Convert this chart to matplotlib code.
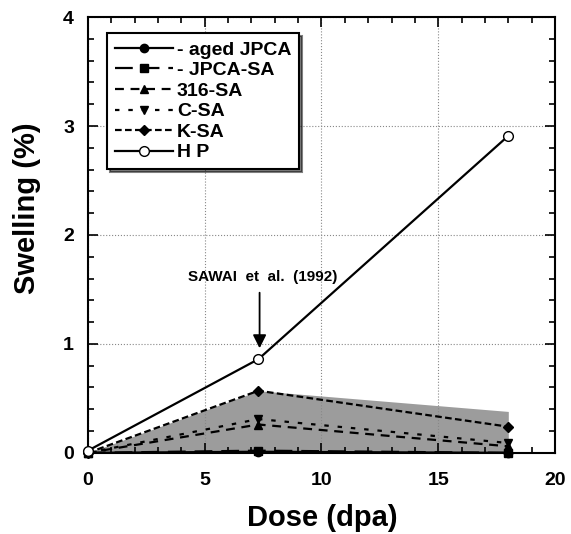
import numpy as np
import matplotlib
matplotlib.use("Agg")
from matplotlib import pyplot as plt
from matplotlib.ticker import MultipleLocator

plt.rcParams['font.family'] = ['Liberation Sans', 'DejaVu Sans']
plt.rcParams['font.weight'] = 'bold'

dose = [0, 7.3, 18]
aged_jpca = [0.0, 0.01, 0.0]
jpca_sa = [0.0, 0.02, 0.0]
sa_316 = [0.0, 0.26, 0.06]
c_sa = [0.0, 0.31, 0.09]
k_sa = [0.0, 0.57, 0.24]
hp = [0.02, 0.86, 2.91]

# shaded band (upper edge)
band_x = [0, 7.3, 18]
band_top = [0.0, 0.57, 0.38]

fig = plt.figure(figsize=(5.71, 5.34), dpi=100)
ax = fig.add_axes([0.154, 0.152, 0.818, 0.816])

ax.fill_between(band_x, 0, band_top, color='#9c9c9c', zorder=1, lw=0)

ax.plot(dose, aged_jpca, '-', color='k', lw=1.6, marker='o', ms=6, label='- aged JPCA', zorder=3, clip_on=False)
ax.plot(dose, jpca_sa, linestyle=(0, (8, 4)), color='k', lw=1.6, marker='s', ms=6, label='- JPCA-SA', zorder=3, clip_on=False)
ax.plot(dose, sa_316, linestyle=(0, (4, 3)), color='k', lw=1.6, marker='^', ms=6, label='316-SA', zorder=3, clip_on=False)
ax.plot(dose, c_sa, linestyle=(0, (2, 4)), color='k', lw=1.6, marker='v', ms=6, label='C-SA', zorder=3, clip_on=False)
ax.plot(dose, k_sa, linestyle=(0, (3, 1.5)), color='k', lw=1.6, marker='D', ms=5, label='K-SA', zorder=3, clip_on=False)
ax.plot(dose, hp, '-', color='k', lw=1.6, marker='o', ms=7, mfc='white', mec='k', label='H P', zorder=4, clip_on=False)

# reference note + arrow
ax.text(7.5, 1.55, 'SAWAI  et  al.  (1992)', ha='center', va='bottom',
        fontsize=11, fontweight='bold')
ax.annotate('', xy=(7.35, 0.96), xytext=(7.35, 1.47),
            arrowprops=dict(arrowstyle='-|>', color='k', lw=1.3,
                            mutation_scale=20, shrinkA=0, shrinkB=0))

ax.set_xlim(0, 20)
ax.set_ylim(0, 4)
ax.xaxis.set_major_locator(MultipleLocator(5))
ax.xaxis.set_minor_locator(MultipleLocator(1))
ax.yaxis.set_major_locator(MultipleLocator(1))
ax.yaxis.set_minor_locator(MultipleLocator(0.2))
ax.tick_params(which='both', direction='in', top=True, right=True, width=1.2)
ax.tick_params(which='major', length=7, labelsize=14)
ax.tick_params(axis='x', which='major', pad=14)
ax.tick_params(axis='y', which='major', pad=10)
ax.tick_params(which='minor', length=4)
ax.grid(True, which='major', linestyle=':', color='#888888', lw=0.8)
for s in ax.spines.values():
    s.set_linewidth(1.5)
for t in ax.get_xticklabels() + ax.get_yticklabels():
    t.set_fontweight('bold')

# axis titles placed in figure coords
fig.text(0.565, 0.03, 'Dose (dpa)', ha='center', va='center', fontsize=21, fontweight='bold')
fig.text(0.047, 0.61, 'Swelling (%)', ha='center', va='center', rotation=90,
         fontsize=21, fontweight='bold')

leg = ax.legend(loc='upper left', bbox_to_anchor=(0.02, 0.985), fancybox=False,
                shadow={'ox': 2, 'oy': -2, 'color': 'k'}, framealpha=1, edgecolor='k',
                fontsize=14, handlelength=3.0, handletextpad=0.2, borderpad=0.4,
                labelspacing=0.15)
leg.get_frame().set_linewidth(1.5)
for t in leg.get_texts():
    t.set_fontweight('bold')

fig.savefig('out.png', dpi=100)
